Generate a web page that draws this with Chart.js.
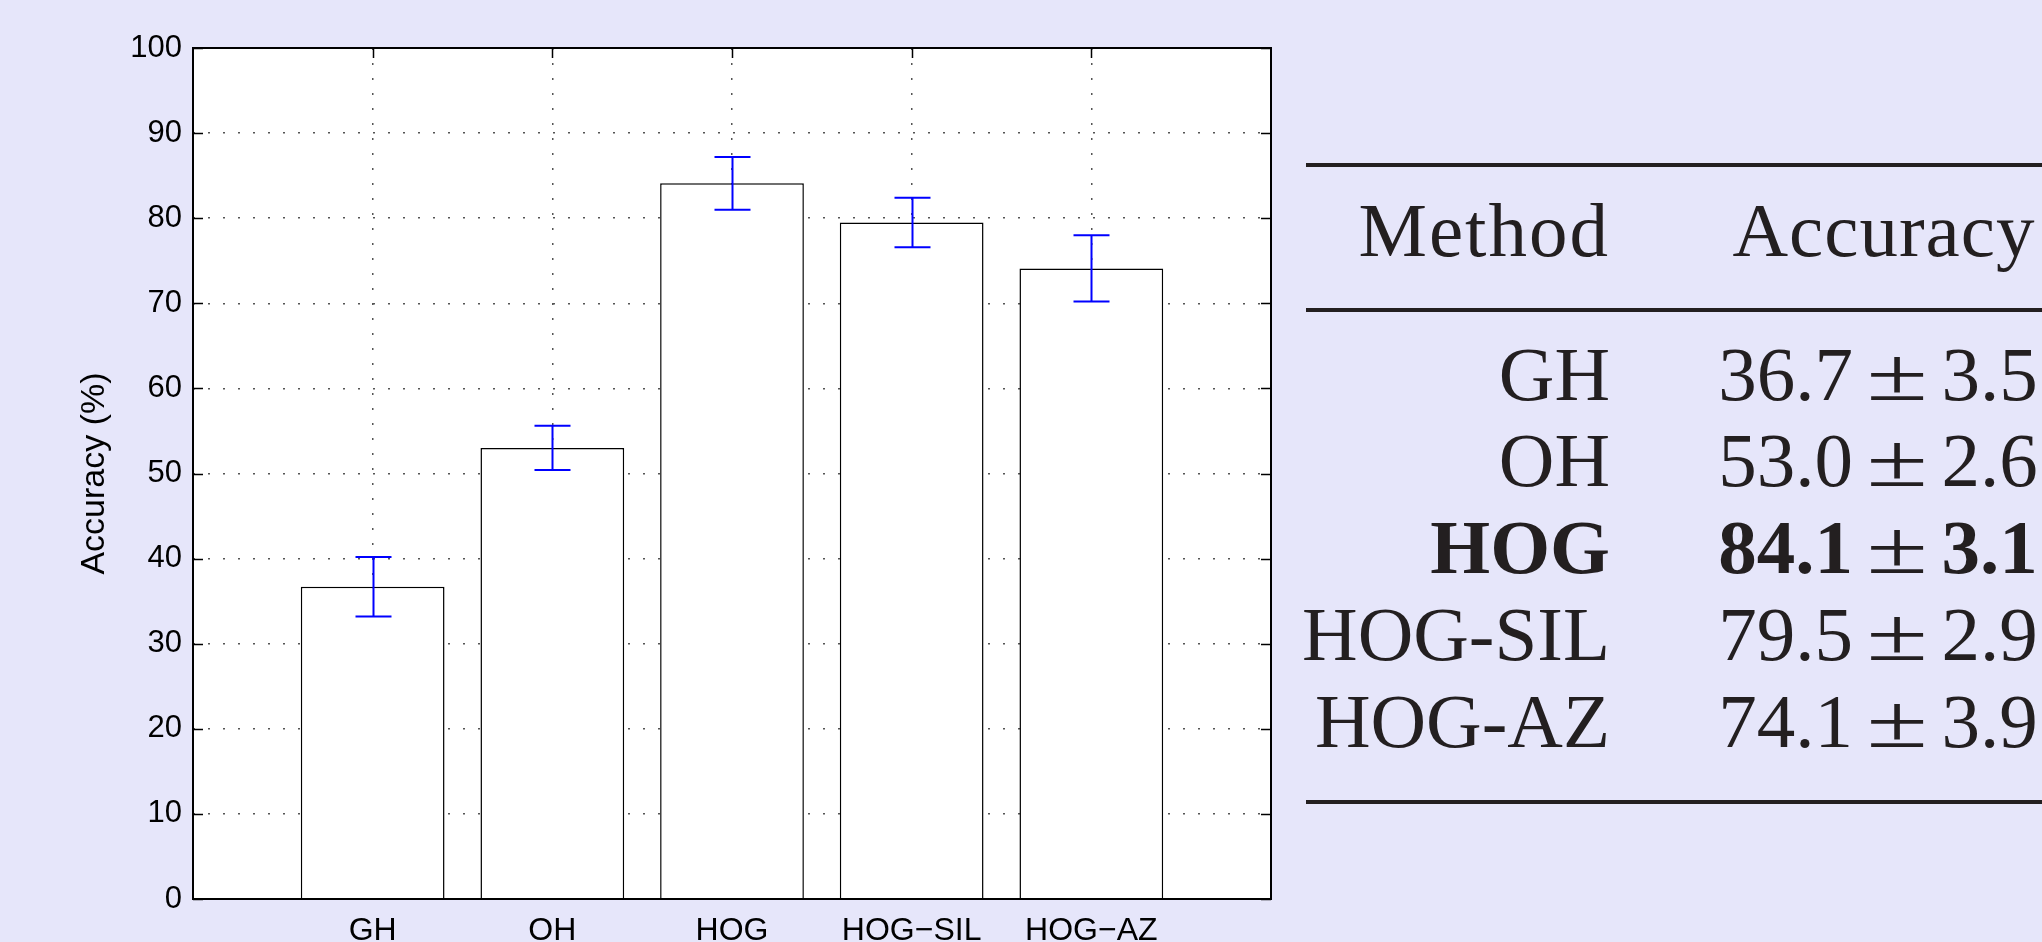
<!DOCTYPE html>
<html>
<head>
<meta charset="utf-8">
<script src="https://cdn.jsdelivr.net/npm/chart.js@4"></script>
<style>
  html, body { margin: 0; padding: 0; }
  body { width: 2042px; height: 942px; background: #e6e6fa; overflow: hidden; position: relative; }
  #chart { position: absolute; left: 0; top: 0; }
  .rule { position: absolute; left: 1306px; width: 736px; height: 4px; background: #231f20; }
  .cell { position: absolute; height: 77px; line-height: 77px; font-family: "Liberation Serif", "Times New Roman", serif;
          font-size: 77px; color: #231f20; white-space: nowrap; }
  .method { right: 432px; text-align: right; }
  .acc { left: 1714px; width: 328px; text-align: center; }
  .pm { display: inline-block; transform: scaleX(1.45); margin: 0 0.3em; font-weight: normal; }
  .best { font-weight: bold; }
  .head-m { letter-spacing: 2px; }
  .head-a { letter-spacing: 1px; left: 1720px; }
</style>
</head>
<body>
<canvas id="chart" width="2042" height="942"></canvas>
<div id="table"></div>
<script>
const methods = ["GH", "OH", "HOG", "HOG-SIL", "HOG-AZ"];
const tickLabels = ["GH", "OH", "HOG", "HOG\u2212SIL", "HOG\u2212AZ"];
const accuracy = [36.7, 53.0, 84.1, 79.5, 74.1];
const stdDev = [3.5, 2.6, 3.1, 2.9, 3.9];
const yTicks = [0, 10, 20, 30, 40, 50, 60, 70, 80, 90, 100];

// table on the right
const table = document.getElementById("table");
const best = accuracy.indexOf(Math.max(...accuracy));
const baseOffset = 64.5; // baseline offset inside a 77px line box
function addCell(cls, baseline, html) {
  const d = document.createElement("div");
  d.className = "cell " + cls;
  d.style.top = (baseline - baseOffset) + "px";
  d.innerHTML = html;
  table.appendChild(d);
}
function addRule(top) {
  const r = document.createElement("div");
  r.className = "rule";
  r.style.top = top + "px";
  table.appendChild(r);
}
addRule(163);
addRule(308);
addRule(800);
addCell("method head-m", 256, "Method");
addCell("acc head-a", 256, "Accuracy");
methods.forEach((m, i) => {
  const b = 400 + i * 86.75;
  const extra = i === best ? " best" : "";
  addCell("method" + extra, b, m);
  addCell("acc" + extra, b,
    accuracy[i].toFixed(1) + '<span class="pm">\u00b1</span>' + stdDev[i].toFixed(1));
});

// chart
const framePlugin = {
  id: "frame",
  beforeDraw(chart) {
    const { ctx, chartArea: a } = chart;
    ctx.save();
    ctx.fillStyle = "#ffffff";
    ctx.fillRect(a.left, a.top, a.right - a.left, a.bottom - a.top);
    ctx.restore();
  },
  beforeDatasetsDraw(chart) {
    // inside tick marks, under the bars like matlab
    const { ctx, chartArea: a, scales } = chart;
    ctx.save();
    ctx.strokeStyle = "#000";
    ctx.lineWidth = 1.5;
    ctx.beginPath();
    yTicks.forEach(v => {
      const y = Math.round(scales.y.getPixelForValue(v)) + 0.5;
      ctx.moveTo(a.left, y); ctx.lineTo(a.left + 10, y);
      ctx.moveTo(a.right, y); ctx.lineTo(a.right - 10, y);
    });
    tickLabels.forEach((t, i) => {
      const x = Math.round(scales.x.getPixelForValue(i + 1)) + 0.5;
      ctx.moveTo(x, a.bottom); ctx.lineTo(x, a.bottom - 10);
      ctx.moveTo(x, a.top); ctx.lineTo(x, a.top + 10);
    });
    ctx.stroke();
    ctx.restore();
  },
  afterDatasetsDraw(chart) {
    const { ctx, chartArea: a, scales } = chart;
    const meta = chart.getDatasetMeta(0);
    ctx.save();
    ctx.strokeStyle = "#0000ff";
    ctx.lineWidth = 2;
    ctx.beginPath();
    meta.data.forEach((bar, i) => {
      const x = Math.round(bar.x) + 0.5;
      const yHi = scales.y.getPixelForValue(accuracy[i] + stdDev[i]);
      const yLo = scales.y.getPixelForValue(accuracy[i] - stdDev[i]);
      ctx.moveTo(x, yHi); ctx.lineTo(x, yLo);
      ctx.moveTo(x - 18, yHi); ctx.lineTo(x + 18, yHi);
      ctx.moveTo(x - 18, yLo); ctx.lineTo(x + 18, yLo);
    });
    ctx.stroke();
    ctx.strokeStyle = "#000";
    ctx.lineWidth = 2;
    ctx.strokeRect(a.left, a.top, a.right - a.left, a.bottom - a.top);
    ctx.restore();
  }
};

Chart.defaults.font.family = '"Liberation Sans", Arial, Helvetica, sans-serif';
Chart.defaults.color = "#000";

new Chart(document.getElementById("chart"), {
  type: "bar",
  data: {
    datasets: [{
      label: "Accuracy",
      data: accuracy.map((v, i) => ({ x: i + 1, y: v })),
      backgroundColor: "#ffffff",
      borderColor: "#000000",
      borderWidth: 1.5,
      categoryPercentage: 1,
      barPercentage: 0.8
    }]
  },
  options: {
    responsive: false,
    animation: false,
    devicePixelRatio: 1,
    layout: { padding: { left: 0, top: 48, right: 771, bottom: 0 } },
    plugins: { legend: { display: false }, tooltip: { enabled: false } },
    scales: {
      x: {
        type: "linear",
        min: 0,
        max: 6,
        offset: false,
        afterFit(scale) { scale.height = 43; },
        ticks: {
          stepSize: 1,
          autoSkip: false,
          maxRotation: 0,
          padding: 13,
          font: { size: 32 },
          callback: v => tickLabels[v - 1] || ""
        },
        grid: { color: "#555", lineWidth: 1.5, drawTicks: false, offset: false },
        border: { display: false, dash: [2, 13] }
      },
      y: {
        min: 0,
        max: 100,
        afterFit(scale) { scale.width = 193; },
        ticks: { stepSize: 10, padding: 11, font: { size: 31 } },
        grid: { color: "#555", lineWidth: 1.5, drawTicks: false },
        border: { display: false, dash: [2, 13] },
        title: { display: true, text: "Accuracy (%)", font: { size: 34 }, padding: { top: 74, bottom: 0 } }
      }
    }
  },
  plugins: [framePlugin]
});
</script>
</body>
</html>
